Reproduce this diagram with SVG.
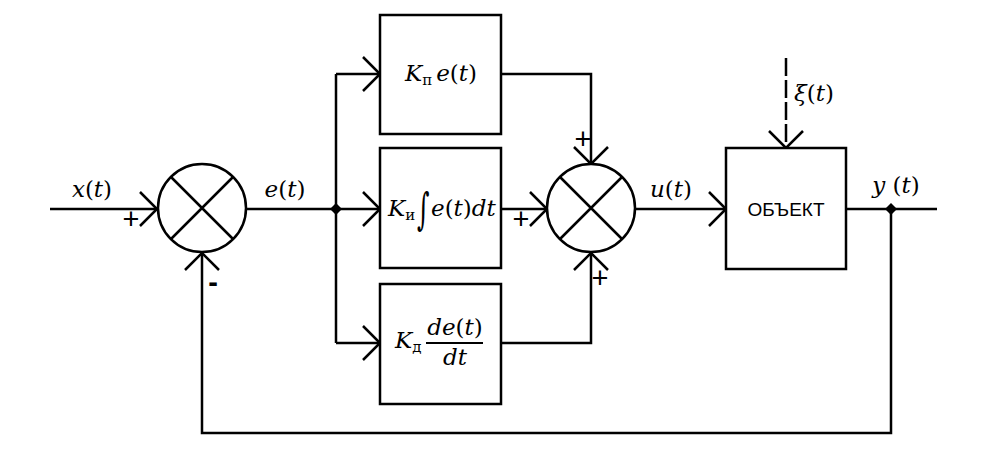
<svg xmlns="http://www.w3.org/2000/svg" width="1000" height="450" viewBox="0 0 1000 450">
<style>
.ln{fill:none;stroke:#000;stroke-width:2.5}
.box{fill:#fff;stroke:#000;stroke-width:2.5}
.m{font-family:"DejaVu Serif","Liberation Serif",serif;font-style:italic;font-size:23px;fill:#000}
.up{font-style:normal}
.sub{font-family:"DejaVu Serif","Liberation Serif",serif;font-style:normal;font-size:15px}
.sg{font-family:"Liberation Sans",Arial,sans-serif;font-size:29px;fill:#000}
.obj{font-family:"Liberation Sans",Arial,sans-serif;font-size:19px;fill:#000}
</style>
<rect width="1000" height="450" fill="#fff"/>
<g id="connectors">
  <path class="ln" d="M50,209 H157"/>
  <path class="ln" d="M140,192 L157,209 L140,226"/>
  <path class="ln" d="M246,209 H380"/>
  <path class="ln" d="M336,74 V343"/>
  <path class="ln" d="M336,74 H380 M336,343 H380"/>
  <path class="ln" d="M363,57 L380,74 L363,91"/>
  <path class="ln" d="M363,192 L380,209 L363,226"/>
  <path class="ln" d="M363,326 L380,343 L363,360"/>
  <path class="ln" d="M501,74 H591 V164"/>
  <path class="ln" d="M574,147 L591,164 L608,147"/>
  <path class="ln" d="M501,209 H547"/>
  <path class="ln" d="M530,192 L547,209 L530,226"/>
  <path class="ln" d="M501,343 H591 V253"/>
  <path class="ln" d="M574,270 L591,253 L608,270"/>
  <path class="ln" d="M635,209 H726"/>
  <path class="ln" d="M709,192 L726,209 L709,226"/>
  <path class="ln" d="M786,58 V148" stroke-dasharray="18,4"/>
  <path class="ln" d="M769,131 L786,148 L803,131"/>
  <path class="ln" d="M846,209 H937"/>
  <path class="ln" d="M891,209 V433 H202 V253"/>
  <path class="ln" d="M185,270 L202,253 L219,270"/>
  <path d="M336,203 L342,209 L336,215 L330,209 Z" fill="#000"/>
  <path d="M891,203 L897,209 L891,215 L885,209 Z" fill="#000"/>
</g>
<g id="sum1">
  <circle cx="202" cy="208" r="44" class="box"/>
  <path class="ln" d="M171,177 L233,239 M233,177 L171,239"/>
</g>
<g id="sum2">
  <circle cx="591" cy="208" r="44" class="box"/>
  <path class="ln" d="M560,177 L622,239 M622,177 L560,239"/>
</g>
<g id="block-p">
  <rect x="380" y="15" width="121" height="119" class="box"/>
  <text class="m" x="405" y="81">K<tspan class="sub" dy="4">п</tspan><tspan dy="-4" dx="4">e</tspan><tspan class="up">(</tspan>t<tspan class="up">)</tspan></text>
</g>
<g id="block-i">
  <rect x="380" y="148" width="121" height="120" class="box"/>
  <text class="m" x="388" y="216">K<tspan class="sub" dy="4">и</tspan></text>
  <text class="m" transform="translate(417,224) scale(1.05,1.9)">∫</text>
  <text class="m" x="431" y="216">e<tspan class="up">(</tspan>t<tspan class="up">)</tspan>dt</text>
</g>
<g id="block-d">
  <rect x="380" y="284" width="121" height="120" class="box"/>
  <text class="m" x="395" y="348">K<tspan class="sub" dy="4">д</tspan></text>
  <text class="m" x="455" y="335" text-anchor="middle">de<tspan class="up">(</tspan>t<tspan class="up">)</tspan></text>
  <path d="M426,343 H483" stroke="#000" stroke-width="2"/>
  <text class="m" x="455" y="365" text-anchor="middle">dt</text>
</g>
<g id="object">
  <rect x="726" y="148" width="120" height="121" class="box"/>
  <text class="obj" x="786" y="216" text-anchor="middle">ОБЪЕКТ</text>
</g>
<g id="labels">
  <text class="m" x="92" y="197" text-anchor="middle">x<tspan class="up">(</tspan>t<tspan class="up">)</tspan></text>
  <text class="m" x="285" y="197" text-anchor="middle">e<tspan class="up">(</tspan>t<tspan class="up">)</tspan></text>
  <text class="m" x="671" y="197" text-anchor="middle">u<tspan class="up">(</tspan>t<tspan class="up">)</tspan></text>
  <text class="m" x="896" y="193" text-anchor="middle">y <tspan class="up">(</tspan>t<tspan class="up">)</tspan></text>
  <text class="m" x="814" y="101" text-anchor="middle">ξ<tspan class="up">(</tspan>t<tspan class="up">)</tspan></text>
  <text class="sg" x="131" y="229" text-anchor="middle">+</text>
  <text class="sg" x="213" y="292" text-anchor="middle" font-weight="bold">-</text>
  <text class="sg" x="583" y="149" text-anchor="middle">+</text>
  <text class="sg" x="521" y="229" text-anchor="middle">+</text>
  <text class="sg" x="600" y="288" text-anchor="middle">+</text>
</g>
</svg>
